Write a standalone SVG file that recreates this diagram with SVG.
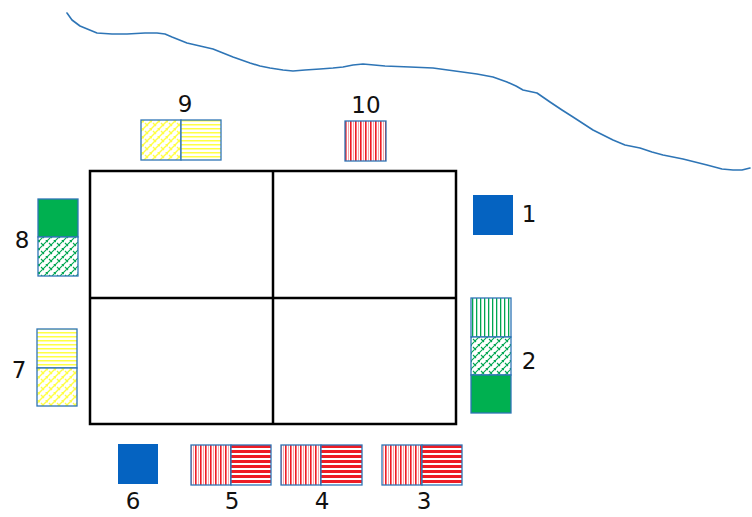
<svg xmlns="http://www.w3.org/2000/svg" width="752" height="517" viewBox="0 0 752 517">
<style>
.lbl{font-family:"DejaVu Sans",Verdana,sans-serif;font-size:23px;fill:#111;text-anchor:middle}
.box{stroke:#2e75b6;stroke-width:1.3}
.grid{fill:none;stroke:#000;stroke-width:2.5}
</style>
<defs>
<pattern id="rv" width="5" height="10" patternUnits="userSpaceOnUse">
<rect width="5" height="10" fill="#fff"/>
<rect x="0" width="1.6" height="10" fill="#ee1c25"/>
<rect x="3" width="1" height="10" fill="#f7a8aa"/>
</pattern>
<pattern id="rh" width="10" height="5" patternUnits="userSpaceOnUse">
<rect width="10" height="5" fill="#fff"/>
<rect y="0" width="10" height="3" fill="#ee1c25"/>
</pattern>
<pattern id="yh" width="10" height="4" patternUnits="userSpaceOnUse">
<rect width="10" height="4" fill="#fff"/>
<rect y="0" width="10" height="1.5" fill="#ffff44"/>
</pattern>
<pattern id="gv" width="4" height="10" patternUnits="userSpaceOnUse">
<rect width="4" height="10" fill="#fff"/>
<rect x="0" width="1.3" height="10" fill="#00a650"/>
</pattern>
<pattern id="yx" width="8" height="8" patternUnits="userSpaceOnUse">
<rect width="8" height="8" fill="#fff"/>
<path d="M0 8 L8 0 M-2 2 L2 -2 M6 10 L10 6 M1 3 L4 6 M5 -1 L8 2" stroke="#ffff44" stroke-width="1.4" fill="none"/>
</pattern>
<pattern id="gx" width="8" height="8" patternUnits="userSpaceOnUse">
<rect width="8" height="8" fill="#fff"/>
<path d="M0 8 L8 0 M-2 2 L2 -2 M6 10 L10 6 M1 3 L4 6 M5 -1 L8 2" stroke="#00a650" stroke-width="1.1" fill="none"/>
</pattern>
</defs>

<polyline id="river" points="67,13 72,20 80,26 97,33 112,34 127,34 145,33 157,33 165,34 172,37 187,43 200,46 213,49 223,53 233,57 250,63 260,66 270,68 283,70 293,71 305,70 320,69 333,68 343,67 353,65 363,64 385,66 410,67 433,68 455,71 477,74 493,77 507,82 516,86 523,90 537,93 550,102 562,110 573,117 593,130 613,140 625,145 640,148 652,152 663,155 683,159 707,165 722,169 733,170 742,170 750,168" fill="none" stroke="#2e75b6" stroke-width="1.6" stroke-linejoin="round" stroke-linecap="round"/>

<g id="grid">
<rect class="grid" x="90" y="171" width="366" height="253"/>
<line class="grid" x1="273" y1="171" x2="273" y2="424"/>
<line class="grid" x1="90" y1="298" x2="456" y2="298"/>
</g>

<g id="item9">
<rect class="box" x="141" y="120" width="40" height="40" fill="url(#yx)"/>
<rect class="box" x="181" y="120" width="40" height="40" fill="url(#yh)"/>
<text class="lbl" x="185" y="112">9</text>
</g>
<g id="item10">
<rect class="box" x="345" y="121" width="41" height="40" fill="url(#rv)"/>
<text class="lbl" x="366" y="113">10</text>
</g>
<g id="item1">
<rect x="473" y="195" width="40" height="40" fill="#0563c1"/>
<text class="lbl" x="529" y="222">1</text>
</g>
<g id="item2">
<rect class="box" x="471" y="298" width="40" height="39" fill="url(#gv)"/>
<rect class="box" x="471" y="337" width="40" height="38" fill="url(#gx)"/>
<rect class="box" x="471" y="375" width="40" height="38" fill="#00b050"/>
<text class="lbl" x="529" y="369">2</text>
</g>
<g id="item8">
<rect class="box" x="38" y="199" width="40" height="38" fill="#00b050"/>
<rect class="box" x="38" y="237" width="40" height="39" fill="url(#gx)"/>
<text class="lbl" x="22" y="248">8</text>
</g>
<g id="item7">
<rect class="box" x="37" y="329" width="40" height="39" fill="url(#yh)"/>
<rect class="box" x="37" y="368" width="40" height="38" fill="url(#yx)"/>
<text class="lbl" x="19" y="378">7</text>
</g>
<g id="item6">
<rect x="118" y="444" width="40" height="40" fill="#0563c1"/>
<text class="lbl" x="133" y="509">6</text>
</g>
<g id="item5">
<rect class="box" x="191" y="445" width="40" height="40" fill="url(#rv)"/>
<rect class="box" x="231" y="445" width="40" height="40" fill="url(#rh)"/>
<text class="lbl" x="232" y="509">5</text>
</g>
<g id="item4">
<rect class="box" x="281" y="445" width="40" height="40" fill="url(#rv)"/>
<rect class="box" x="321" y="445" width="41" height="40" fill="url(#rh)"/>
<text class="lbl" x="322" y="509">4</text>
</g>
<g id="item3">
<rect class="box" x="382" y="445" width="40" height="40" fill="url(#rv)"/>
<rect class="box" x="422" y="445" width="40" height="40" fill="url(#rh)"/>
<text class="lbl" x="424" y="509">3</text>
</g>
</svg>
